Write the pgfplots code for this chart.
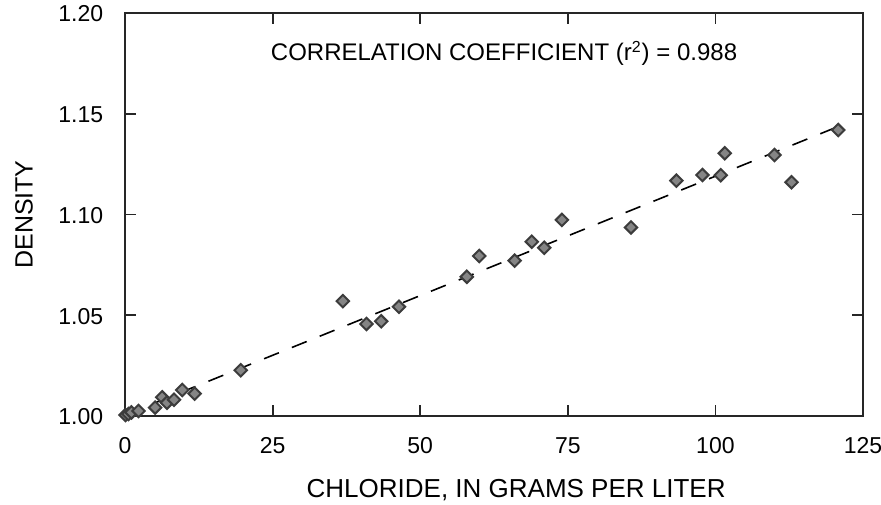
\documentclass[border=0pt]{standalone}
\usepackage{pgfplots}
\pgfplotsset{compat=1.18}
\usepackage{fontspec}
\setmainfont{Liberation Sans}
\definecolor{markfill}{HTML}{858585}
\definecolor{markdraw}{HTML}{3C3C3C}
\begin{document}
\fontsize{12pt}{14pt}\selectfont
\begin{tikzpicture}
\begin{axis}[
  scale only axis,
  width=369pt, height=201.5pt,
  xmin=0, xmax=125, ymin=1.0, ymax=1.2,
  xtick={0,25,50,75,100,125},
  ytick={1.00,1.05,1.10,1.15,1.20},
  yticklabel style={/pgf/number format/fixed, /pgf/number format/fixed zerofill, /pgf/number format/precision=2},
  /pgf/number format/assume math mode=true,
  tick align=inside,
  major tick length=5.5pt,
  tick style={line width=0.9pt, color=black!85},
  axis line style={line width=1pt, color=black!85},
  xticklabel style={anchor=center, yshift=-15pt, font=\fontsize{11.5pt}{14pt}\selectfont},
  yticklabel style={anchor=east, xshift=-6.7pt, yshift=-0.5pt, font=\fontsize{11.5pt}{14pt}\selectfont},
  xlabel={CHLORIDE, IN GRAMS PER LITER},
  ylabel={DENSITY},
  xlabel style={at={(axis description cs:0.53,-0.1836)}, anchor=center, font=\fontsize{13pt}{15pt}\selectfont},
  ylabel style={at={(axis description cs:-0.1369,0.5)}, anchor=center, font=\fontsize{12.5pt}{15pt}\selectfont},
  clip=false,
]
\addplot[black, line width=0.8pt, dash pattern=on 8pt off 7pt] coordinates {(0,1.0005) (121,1.1439)};
\addplot[only marks, mark=square*, mark size=2.2pt,
  mark options={rotate=45, fill=markfill, draw=markdraw, line width=1pt, solid}]
coordinates {
(0.1,1.0005) (0.6,1.0010) (1.1,1.0018) (2.3,1.0025)
(5.1,1.0042) (6.3,1.0093) (7.1,1.0066) (8.3,1.0081) (9.7,1.0129) (11.8,1.0111)
(19.6,1.0227) (36.9,1.0570) (40.9,1.0457) (43.4,1.0470) (46.4,1.0542)
(57.9,1.0691) (60.0,1.0794) (66.0,1.0771) (68.9,1.0865) (71.0,1.0835) (74.0,1.0973)
(85.7,1.0936) (93.4,1.1168) (97.8,1.1196) (100.9,1.1195) (101.6,1.1304)
(110.0,1.1295) (112.9,1.1160) (120.8,1.1419)
};
\node[font=\fontsize{12pt}{14pt}\selectfont] at (axis cs:64.2,1.18) {CORRELATION COEFFICIENT (r\textsuperscript{2}) = 0.988};
\end{axis}
\pgfresetboundingbox
\path ([shift={(-62.5pt,-44.2pt)}]current axis.south west) rectangle ([shift={(9pt,6.5pt)}]current axis.north east);
\end{tikzpicture}
\end{document}
